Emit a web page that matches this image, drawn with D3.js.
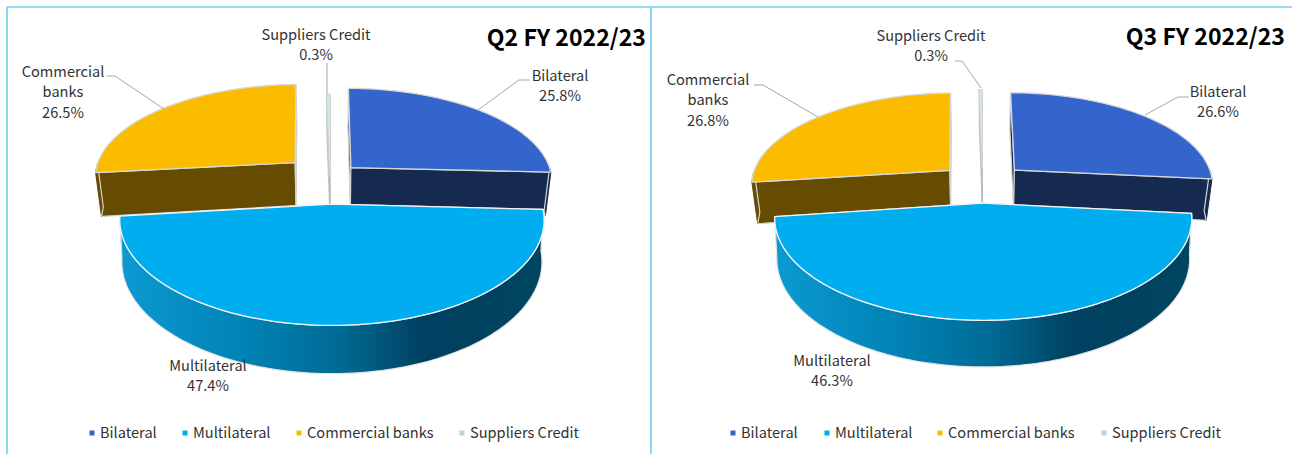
<!DOCTYPE html>
<html><head><meta charset="utf-8">
<script src="https://cdn.jsdelivr.net/npm/d3@7"></script>
<style>html,body{margin:0;padding:0;background:#fff;overflow:hidden}svg{display:block}
text{font-family:"Noto Sans CJK SC","Noto Sans",sans-serif;fill:#333}</style>
</head><body><svg id="c" width="1292" height="454"></svg>
<script>
// ---- data ----
const categories = ["Bilateral", "Multilateral", "Commercial banks", "Suppliers Credit"];
const sliceLabels = [["Bilateral"], ["Multilateral"], ["Commercial", "banks"], ["Suppliers Credit"]];
const q2Values = [25.8, 47.4, 26.5, 0.3];
const q3Values = [26.6, 46.3, 26.8, 0.3];
const panelTitles = ["Q2 FY 2022/23", "Q3 FY 2022/23"];

// ---- style / layout ----
const topColors  = ["#3465cc", "#00adef", "#fbbc00", "#d2e6f1"];
const wallColors = ["#16294f", "#0080b0", "#654c00", "#c5d5de"];
const legendColors = ["#3465cc", "#00adef", "#fbbc00", "#b7d5e5"];
const panels = [
  { values:q2Values, title:panelTitles[0], x0:330, y0:176, R:201.5, A:676, p:0.141, T:39.5, Tfar:44, farDepth:0.97, farShift:1,
    explode:[0.145,0.284,0.235,-0.02], titleX:646, titleY:38,
    labels:[[560,76],[208,366],[63,72],[316,35]],
    leaders:[[[478,110],[519,80],[530,80]], null, [[107,76],[115,76],[164,109]], [[327,63],[327,95]]],
    legendX:[92,185,299,462] },
  { values:q3Values, title:panelTitles[1], x0:982.5, y0:181, R:199.5, A:656, p:0.1424, T:38.5, Tfar:41.6, farDepth:0.98, farShift:2.5,
    explode:[0.22,0.23,0.22,0.14], titleX:1285, titleY:37,
    labels:[[1218,92],[832,361],[708,80],[931,36]],
    leaders:[[[1145,115],[1178,97],[1189,97]], null, [[754,85],[763,85],[818,117]], [[955,61],[962,61],[981,88]]],
    legendX:[733,827,940,1104] }
];
const legendY = 433, lineH = 20.3;
const fontSize = 14.6;

const svg = d3.select("#c");
const defs = svg.append("defs");
const line = d3.line();

// left + top frame lines
const frame = "#6fcff3";
[[7,7,7,454],[7,7,1292,7],[651,7,651,454]].forEach(([a,b,c,d]) =>
  svg.append("line").attr("x1",a).attr("y1",b).attr("x2",c).attr("y2",d)
     .attr("stroke",frame).attr("stroke-width",1.6));

panels.forEach((P, pi) => {
  const g = svg.append("g");
  const arcs = d3.pie().sort(null).value(d => d)(P.values);

  const gid = "wall" + pi;
  const grad = defs.append("linearGradient").attr("id", gid).attr("x1",0).attr("x2",1).attr("y1",0).attr("y2",0);
  [[0,"#0b9ad2"],[0.3,"#0082b4"],[0.52,"#006a94"],[0.72,"#004060"],[1,"#004660"]].forEach(([o,c]) =>
    grad.append("stop").attr("offset",o).attr("stop-color",c));

  const order = [3, 0, 2, 1];
  order.forEach(i => {
    const a = arcs[i];
    const isMulti = i === 1, isSliver = i === 3;
    const plain = isMulti || isSliver;
    const k = isMulti ? 0.99 : 0.975;
    const T = isMulti ? P.T : P.Tfar;
    const depth = plain ? 1 : P.farDepth;
    const shift = plain ? 0 : P.farShift;

    // perspective projection of a point on the pie's plane
    const proj = (X, Z, low) => {
      const w = 1 - P.p * Z;
      const x = P.x0 + P.R * X / w;
      const y = P.y0 - P.A + P.A / w + shift;
      return low ? [P.x0 + (x - P.x0) * k, y + T / w] : [x, y];
    };

    const mid = (a.startAngle + a.endAngle) / 2;
    const e = P.explode[i];
    const cX = e * Math.sin(mid), cZ = -e * Math.cos(mid);
    const pt = (th, low) => proj(cX + Math.sin(th), cZ - depth * Math.cos(th), low);
    const apex = low => proj(cX, cZ, low);
    const n = Math.max(4, Math.ceil((a.endAngle - a.startAngle) * 40));
    const ths = d3.range(n + 1).map(j => a.startAngle + (a.endAngle - a.startAngle) * j / n);
    const edge = isMulti ? "#e4e4e4" : "#d4d4d4";
    const sw = isSliver ? 0.7 : 1.2;

    // radial faces
    [a.startAngle, a.endAngle].forEach(th => {
      g.append("path")
        .attr("d", line([apex(false), pt(th,false), pt(th,true), apex(true)]) + "Z")
        .attr("fill", wallColors[i]).attr("stroke", isSliver ? "#b5b5b5" : edge).attr("stroke-width", sw).attr("stroke-linejoin","round");
    });
    // outer wall, only the part that faces the viewer
    const vis = ths.filter(t => Math.cos(t) < 0);
    if (vis.length > 1) {
      const poly = vis.map(t => pt(t,false)).concat(vis.slice().reverse().map(t => pt(t,true)));
      const wall = g.append("path").attr("d", line(poly) + "Z")
        .attr("fill", isMulti ? `url(#${gid})` : wallColors[i]).attr("stroke-linejoin","round");
      if (isMulti) {
        wall.attr("stroke", edge).attr("stroke-width", sw);
      } else {
        // hide the seam with the radial face, then outline only the outer side
        wall.attr("stroke", wallColors[i]).attr("stroke-width", 1);
        const outerEnd = a.startAngle > Math.PI ? vis[vis.length - 1] : vis[0];
        const farSide = a.startAngle > Math.PI ? vis[0] : vis[vis.length - 1];
        g.append("path").attr("d", line([pt(outerEnd,false), pt(outerEnd,true), pt(farSide,true)]))
          .attr("fill","none").attr("stroke", edge).attr("stroke-width", sw);
      }
    }
    // top face
    const top = [apex(false)].concat(ths.map(t => pt(t,false)));
    g.append("path").attr("d", line(top) + "Z")
      .attr("fill", topColors[i]).attr("stroke", isMulti ? "#f4f4f4" : "#d8d8d8")
      .attr("stroke-width", isSliver ? 0.7 : 1.3).attr("stroke-linejoin","round");
  });

  // leader lines
  P.leaders.forEach(l => { if (l)
    g.append("path").attr("d", line(l)).attr("fill","none").attr("stroke","#a6a6a6").attr("stroke-width",1);
  });

  // data labels
  sliceLabels.forEach((lines, i) => {
    const [lx, ly] = P.labels[i];
    const t = g.append("text").attr("text-anchor","middle").attr("font-size",fontSize);
    lines.concat(P.values[i].toFixed(1) + "%").forEach((s, j) =>
      t.append("tspan").attr("x",lx).attr("y",ly + j * lineH).attr("dy","0.35em").text(s));
  });

  // title
  g.append("text").attr("x",P.titleX).attr("y",P.titleY).attr("dy","0.35em").attr("text-anchor","end")
    .attr("font-size",23.1).attr("font-weight",700).style("fill","#000").text(P.title);

  // legend
  categories.forEach((c, i) => {
    g.append("rect").attr("x",P.legendX[i]-2.5).attr("y",legendY-2.5).attr("width",5).attr("height",5).attr("fill",legendColors[i]);
    g.append("text").attr("x",P.legendX[i]+8).attr("y",legendY).attr("dy","0.35em").attr("font-size",fontSize).text(c);
  });
});
</script></body></html>
